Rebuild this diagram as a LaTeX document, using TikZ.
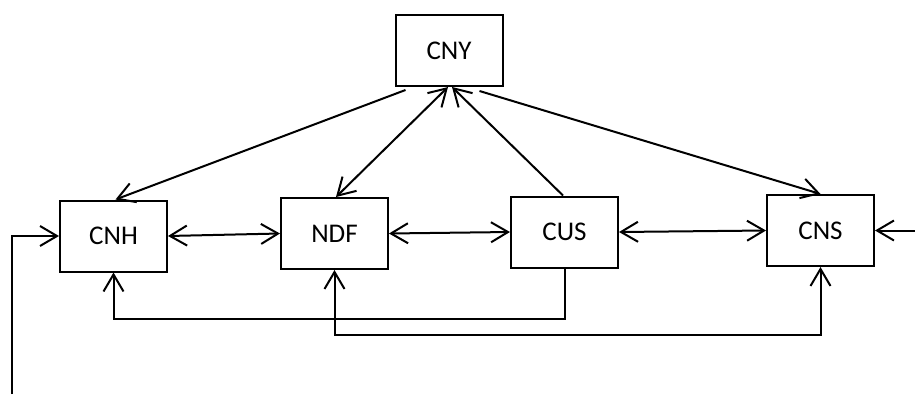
\documentclass[tikz,border=0pt]{standalone}
\usepackage{fontspec}
\setmainfont{Carlito}
\usetikzlibrary{arrows.meta}
\begin{document}
\begin{tikzpicture}[x=1pt,y=-1pt,
  box/.style={draw=black,line width=2pt,minimum width=107pt,minimum height=71pt,inner sep=0pt,
    font=\fontsize{27}{30}\selectfont},
  link/.style={draw=black,line width=2pt,-{Straight Barb[length=17pt,width=20pt]}},
  link2/.style={draw=black,line width=2pt,{Straight Barb[length=17pt,width=20pt]}-{Straight Barb[length=17pt,width=20pt]}}]
\useasboundingbox (0,0) rectangle (915,394);
\node[box] (cny) at (449,50.5) {CNY};
\node[box] (cnh) at (113.5,236) {CNH};
\node[box] (ndf) at (334.5,233.5) {NDF};
\node[box] (cus) at (564.5,232) {CUS};
\node[box] (cns) at (820.5,230.5) {CNS};
\coordinate (inR) at (915,230.5);
\coordinate (inL) at (12,394);
% top connectors
\draw[link] ([xshift=11pt,yshift=-3pt]cny.south west) -- ([xshift=2pt]cnh.north);
\draw[link2] ([xshift=1.5pt]ndf.north) -- ([xshift=-1pt]cny.south);
\draw[link] ([xshift=-1.5pt]cus.north) -- ([xshift=3pt]cny.south);
\draw[link] ([xshift=-24pt,yshift=-4pt]cny.south east) -- (cns.north);
% horizontal connectors
\draw[link2] (cnh.east) -- (ndf.west);
\draw[link2] (ndf.east) -- (cus.west);
\draw[link2] (cus.east) -- (cns.west);
\draw[link] (inR) -- (cns.east);
\draw[link] (inL) |- (cnh.west);
% bottom connectors
\draw[link] (cus.south) -- ++(0,50) -| ([xshift=0pt]cnh.south);
\draw[link2] (ndf.south) -- ++(0,65) -| (cns.south);
\end{tikzpicture}
\end{document}
